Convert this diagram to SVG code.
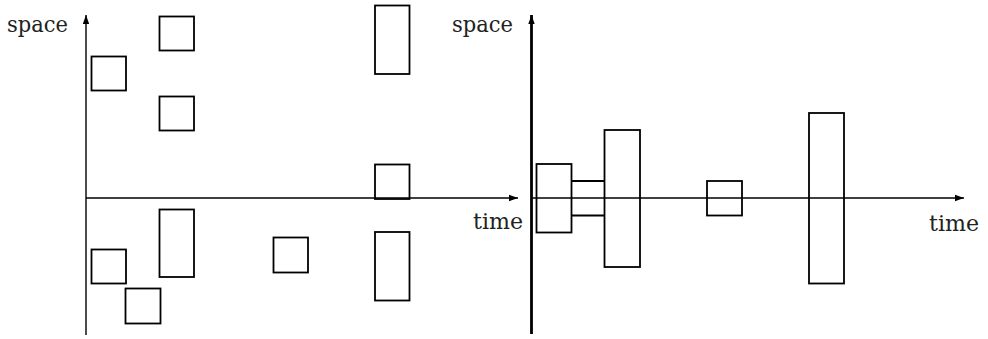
<svg xmlns="http://www.w3.org/2000/svg" width="988" height="339" viewBox="0 0 988 339">
<style>
.box{fill:none;stroke:#000;stroke-width:1.8}
.ax{fill:none;stroke:#000;stroke-width:1.4}
.lbl{font-family:"DejaVu Serif",serif;font-size:22px;fill:#222}
</style>
<defs>
<marker id="arr" markerWidth="10" markerHeight="8" refX="9" refY="4" orient="auto" markerUnits="userSpaceOnUse">
<path d="M0,0.8 L9,4 L0,7.2 Z" fill="#000"/>
</marker>
</defs>
<rect width="988" height="339" fill="#fff"/>
<g id="connectors">
<line class="ax" x1="86" y1="335" x2="86" y2="15" marker-end="url(#arr)"/>
<line class="ax" x1="86" y1="198" x2="518" y2="198" marker-end="url(#arr)"/>
<line class="ax" style="stroke-width:2.8" x1="531.5" y1="334" x2="531.5" y2="15" marker-end="url(#arr)"/>
<line class="ax" x1="531.5" y1="198" x2="964" y2="198" marker-end="url(#arr)"/>
<line class="box" x1="571.5" y1="181" x2="604.5" y2="181"/>
<line class="box" x1="571.5" y1="215.5" x2="604.5" y2="215.5"/>
</g>
<g id="labels">
<text class="lbl" x="7" y="32" textLength="61" lengthAdjust="spacingAndGlyphs">space</text>
<text class="lbl" x="452" y="32" textLength="61" lengthAdjust="spacingAndGlyphs">space</text>
<text class="lbl" x="473" y="229" textLength="50" lengthAdjust="spacingAndGlyphs">time</text>
<text class="lbl" x="929" y="231" textLength="50" lengthAdjust="spacingAndGlyphs">time</text>
</g>
<g id="left-boxes">
<rect id="b1" class="box" x="91.5" y="56.5" width="34.5" height="34"/>
<rect id="b2" class="box" x="159.5" y="16.5" width="34.5" height="34"/>
<rect id="b3" class="box" x="159.5" y="96.5" width="34.5" height="34"/>
<rect id="b4" class="box" x="159.5" y="209.5" width="34.5" height="67.5"/>
<rect id="b5" class="box" x="91.5" y="249.5" width="34.5" height="34"/>
<rect id="b6" class="box" x="125.5" y="288.5" width="35" height="35"/>
<rect id="b7" class="box" x="273.5" y="237.5" width="34.5" height="35"/>
<rect id="b8" class="box" x="375" y="5.5" width="34.5" height="68.5"/>
<rect id="b9" class="box" x="375" y="164.5" width="34.5" height="34.5"/>
<rect id="b10" class="box" x="375" y="232" width="34.5" height="68.5"/>
</g>
<g id="right-boxes">
<rect id="r1" class="box" x="536.5" y="164" width="35" height="68.5"/>
<rect id="r2" class="box" x="604.5" y="130" width="35.5" height="137"/>
<rect id="r3" class="box" x="707" y="181" width="35" height="34.5"/>
<rect id="r4" class="box" x="809" y="113" width="35" height="170.5"/>
</g>
</svg>
